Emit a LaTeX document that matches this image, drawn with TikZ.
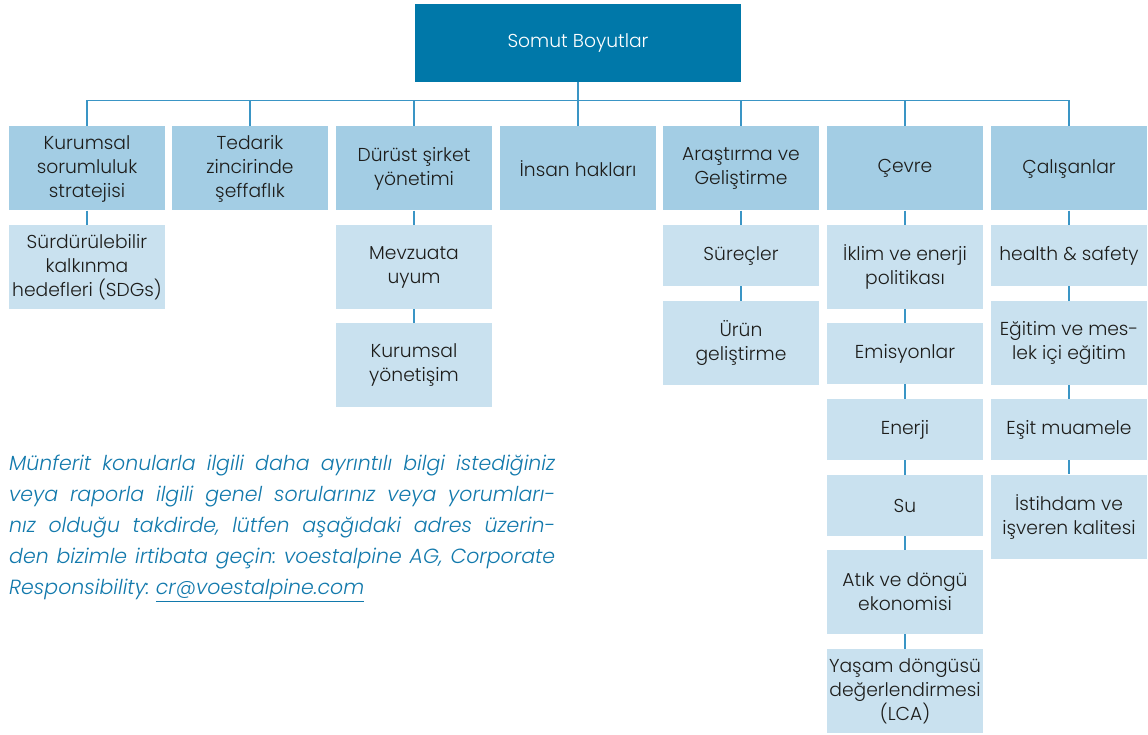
\documentclass[tikz,border=0pt]{standalone}
\usepackage{fontspec}
\IfFontExistsTF{Poppins Light}
  {\setmainfont{Poppins}[UprightFont=* Light, ItalicFont=* Light Italic]}
  {\setmainfont{Poppins}}
\usepackage{xcolor}
\usepackage{tikz}
\usetikzlibrary{positioning}
\definecolor{rootblue}{HTML}{0078A9}
\definecolor{dimblue}{HTML}{A3CDE4}
\definecolor{topicblue}{HTML}{C9E1EF}
\definecolor{linkblue}{HTML}{3A95C5}
\definecolor{noteblue}{HTML}{1279AC}
\definecolor{boxtext}{HTML}{1D1D1B}
\tikzset{
  box/.style={text=boxtext, align=center, inner sep=0pt, minimum width=156pt,
    font=\fontsize{18.7}{24}\selectfont},
  root/.style={box, fill=rootblue, text=white, minimum width=326pt, minimum height=78pt},
  dim/.style={box, fill=dimblue, minimum height=84pt},
  topic/.style={box, fill=topicblue, minimum height=#1pt},
  topic/.default=61,
  link/.style={draw=linkblue, line width=1.2pt},
  note/.style={text width=546pt, align=justify, inner sep=0pt, text=noteblue,
    font=\fontsize{20.5}{31}\selectfont\itshape\frenchspacing},
}

\begin{document}
\begin{tikzpicture}[x=1pt,y=-1pt]
            \useasboundingbox (0,0) rectangle (1148,735);
            % Root
            \node[root] (root) at (578,43) {Somut Boyutlar};
            % Dimensions
            \node[dim] (c1) at (87,168.5) {Kurumsal\\sorumluluk\\stratejisi};
            \node[dim] (c2) at (250,168.5) {Tedarik\\zincirinde\\şeffaflık};
            \node[dim] (c3) at (414,168.5) {Dürüst şirket\\yönetimi};
            \node[dim] (c4) at (578,168.5) {İnsan hakları};
            \node[dim] (c5) at (741,168.5) {Araştırma ve\\Geliştirme};
            \node[dim] (c6) at (905,168.5) {Çevre};
            \node[dim] (c7) at (1069,168.5) {Çalışanlar};
            \foreach \n in {c1,c2,c3,c4,c5,c6,c7}
              \draw[link] (root.south) -- ++(0,18) -| (\n.north);
            % Topics
            \node[topic=84] (s1) at (87,267) {Sürdürülebilir\\kalkınma\\hedefleri (SDGs)};
            \node[topic=84] (d1) at (414,267) {Mevzuata\\uyum};
            \node[topic=84] (d2) at (414,365) {Kurumsal\\yönetişim};
            \node[topic] (a1) at (741,255.5) {Süreçler};
            \node[topic=84] (a2) at (741,343) {Ürün\\geliştirme};
            \node[topic=84] (e1) at (905,267) {İklim ve enerji\\politikası};
            \node[topic] (e2) at (905,353.5) {Emisyonlar};
            \node[topic] (e3) at (905,429.5) {Enerji};
            \node[topic] (e4) at (905,505.5) {Su};
            \node[topic=84] (e5) at (905,592) {Atık ve döngü\\ekonomisi};
            \node[topic=84] (e6) at (905,691) {Yaşam döngüsü\\değerlendirmesi\\(LCA)};
            \node[topic] (w1) at (1069,255.5) {health \& safety};
            \node[topic=84] (w2) at (1069,343) {Eğitim ve mes-\\lek içi eğitim};
            \node[topic] (w3) at (1069,429.5) {Eşit muamele};
            \node[topic=84] (w4) at (1069,516.5) {İstihdam ve\\işveren kalitesi};
            \draw[link] (c1) -- (s1);
            \draw[link] (c3) -- (d1) -- (d2);
            \draw[link] (c5) -- (a1) -- (a2);
            \draw[link] (c6) -- (e1) -- (e2) -- (e3) -- (e4) -- (e5) -- (e6);
            \draw[link] (c7) -- (w1) -- (w2) -- (w3) -- (w4);
            % Contact
            \node[note, anchor=north west] (info) at (9,455) {Münferit konularla ilgili daha ayrıntılı bilgi istediğiniz\linebreak
              veya raporla ilgili genel sorularınız veya yorumları-\linebreak
              nız olduğu takdirde, lütfen aşağıdaki adres üzerin-\linebreak
              den bizimle irtibata geçin: voestalpine AG, Corporate\linebreak
              Responsibility: \underline{cr@voestalpine.com}};
        \end{tikzpicture}
\end{document}
